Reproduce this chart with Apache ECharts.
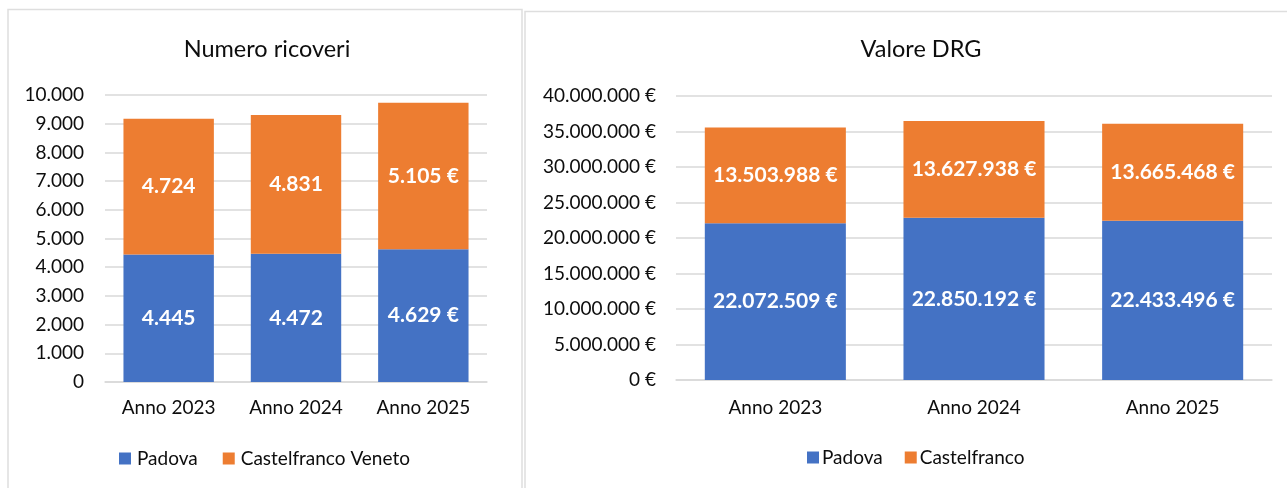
<!DOCTYPE html>
<html>
<head>
<meta charset="utf-8">
<script src="https://cdn.jsdelivr.net/npm/echarts@6/dist/echarts.min.js"></script>
<style>
  html, body { margin: 0; padding: 0; background: #fff; }
  #chart { width: 1287px; height: 488px; }
</style>
</head>
<body>
<div id="chart"></div>
<script>
// dati
const anni = ['Anno 2023', 'Anno 2024', 'Anno 2025'];

// Numero ricoveri
const ricoveriPadova = [4445, 4472, 4629];
const ricoveriCastelfranco = [4724, 4831, 5105];
const ricoveriSuffisso = ['', '', ' €']; // come nell'originale, solo l'ultima colonna ha il simbolo
const ricoveriTicks = ['0', '1.000', '2.000', '3.000', '4.000', '5.000', '6.000', '7.000', '8.000', '9.000', '10.000'];

// Valore DRG
const drgPadova = [22072509, 22850192, 22433496];
const drgCastelfranco = [13503988, 13627938, 13665468];
const drgTicks = ['0 €', '5.000.000 €', '10.000.000 €', '15.000.000 €', '20.000.000 €', '25.000.000 €', '30.000.000 €', '35.000.000 €', '40.000.000 €'];

const BLU = '#4472C4';
const ARANCIO = '#ED7D31';
const GRIGIO = '#D9D9D9';
const TESTO = '#0d0d0d';
const FONT = 'Lato';

// separatore delle migliaia all'italiana
function fmt(n) {
    return String(Math.round(n)).replace(/\B(?=(\d{3})+(?!\d))/g, '.');
}

const chartDom = document.getElementById('chart');
const myChart = echarts.init(chartDom);

const labelStyle = {
    show: true,
    position: 'inside',
    color: '#fff',
    fontFamily: FONT,
    fontWeight: 'bold',
    fontSize: 21
};

const option = {
    animation: false,
    textStyle: { fontFamily: FONT },
    graphic: [
        // cornici dei due riquadri
        { type: 'rect', shape: { x: 8, y: 9.5, width: 514, height: 490 }, style: { fill: 'none', stroke: '#DEDEDE', lineWidth: 1.5 } },
        { type: 'rect', shape: { x: 525, y: 11.5, width: 780, height: 490 }, style: { fill: 'none', stroke: '#DEDEDE', lineWidth: 1.5 } }
    ],
    title: [
        { text: 'Numero ricoveri', left: 262, top: 32, textAlign: 'center',
          textStyle: { fontFamily: FONT, fontWeight: 'normal', fontSize: 23.5, color: TESTO } },
        { text: 'Valore DRG', left: 916, top: 32, textAlign: 'center',
          textStyle: { fontFamily: FONT, fontWeight: 'normal', fontSize: 23.5, color: TESTO } }
    ],
    legend: [
        { data: ['Padova', 'Castelfranco Veneto'], left: 119, top: 449, padding: 0,
          itemWidth: 12, itemHeight: 12, itemGap: 25, icon: 'rect',
          textStyle: { fontFamily: FONT, fontSize: 19, color: TESTO, padding: [0, 0, 0, 1] } },
        { data: ['Padova ', 'Castelfranco'], left: 807, top: 448, padding: 0,
          itemWidth: 12, itemHeight: 12, itemGap: 22, icon: 'rect',
          textStyle: { fontFamily: FONT, fontSize: 19, color: TESTO, padding: [0, 0, 0, -2] },
          formatter: name => name.trim() }
    ],
    grid: [
        { left: 105, top: 95, width: 382, height: 287 },
        { left: 676, top: 96, width: 596, height: 284 }
    ],
    xAxis: [
        { type: 'category', gridIndex: 0, data: anni,
          axisLine: { lineStyle: { color: GRIGIO, width: 1.5 } }, axisTick: { show: false },
          axisLabel: { color: TESTO, fontFamily: FONT, fontSize: 19, margin: 16 } },
        { type: 'category', gridIndex: 1, data: anni,
          axisLine: { lineStyle: { color: GRIGIO, width: 1.5 } }, axisTick: { show: false },
          axisLabel: { color: TESTO, fontFamily: FONT, fontSize: 19, margin: 18 } }
    ],
    yAxis: [
        { type: 'value', gridIndex: 0, min: 0, max: 10000, interval: 1000,
          axisLine: { show: false }, axisTick: { show: false },
          splitLine: { lineStyle: { color: GRIGIO, width: 1.5 } },
          axisLabel: { color: TESTO, fontFamily: FONT, fontSize: 19, margin: 21,
                       formatter: v => ricoveriTicks[Math.round(v / 1000)] } },
        { type: 'value', gridIndex: 1, min: 0, max: 40000000, interval: 5000000,
          axisLine: { show: false }, axisTick: { show: false },
          splitLine: { lineStyle: { color: GRIGIO, width: 1.5 } },
          axisLabel: { color: TESTO, fontFamily: FONT, fontSize: 19, margin: 20,
                       formatter: v => drgTicks[Math.round(v / 5000000)] } }
    ],
    series: [
        { name: 'Padova', type: 'bar', stack: 'ric', xAxisIndex: 0, yAxisIndex: 0,
          data: ricoveriPadova, itemStyle: { color: BLU }, barCategoryGap: '29%',
          label: Object.assign({}, labelStyle, { formatter: p => fmt(p.value) + ricoveriSuffisso[p.dataIndex] }) },
        { name: 'Castelfranco Veneto', type: 'bar', stack: 'ric', xAxisIndex: 0, yAxisIndex: 0,
          data: ricoveriCastelfranco, itemStyle: { color: ARANCIO }, barCategoryGap: '29%',
          label: Object.assign({}, labelStyle, { formatter: p => fmt(p.value) + ricoveriSuffisso[p.dataIndex] }) },
        { name: 'Padova ', type: 'bar', stack: 'drg', xAxisIndex: 1, yAxisIndex: 1,
          data: drgPadova, itemStyle: { color: BLU }, barCategoryGap: '29%',
          label: Object.assign({}, labelStyle, { formatter: p => fmt(p.value) + ' €' }) },
        { name: 'Castelfranco', type: 'bar', stack: 'drg', xAxisIndex: 1, yAxisIndex: 1,
          data: drgCastelfranco, itemStyle: { color: ARANCIO }, barCategoryGap: '29%',
          label: Object.assign({}, labelStyle, { formatter: p => fmt(p.value) + ' €' }) }
    ]
};

option && myChart.setOption(option);
</script>
</body>
</html>
